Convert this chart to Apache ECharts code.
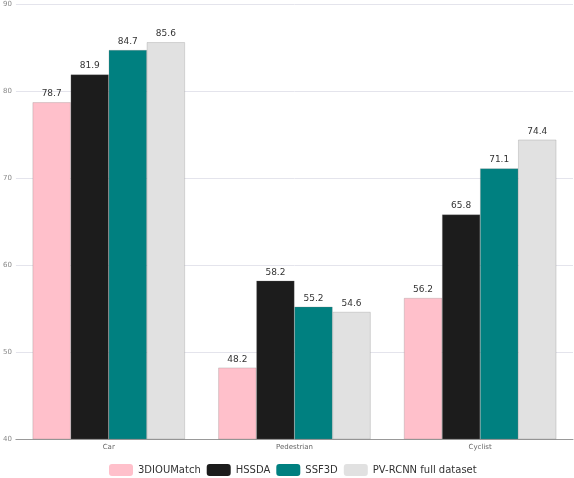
<!DOCTYPE html>
<html><head><meta charset="utf-8">
<script src="https://cdn.jsdelivr.net/npm/echarts@6/dist/echarts.min.js"></script>
<style>html,body{margin:0;padding:0;background:#fff}#c{width:574px;height:478px}</style>
</head><body><div id="c"></div>
<script>
const categories = ['Car', 'Pedestrian', 'Cyclist'];
const seriesNames = ['3DIOUMatch', 'HSSDA', 'SSF3D', 'PV-RCNN full dataset'];
const v3DIOUMatch = [78.7, 48.2, 56.2];
const vHSSDA = [81.9, 58.2, 65.8];
const vSSF3D = [84.7, 55.2, 71.1];
const vPVRCNN = [85.6, 54.6, 74.4];
const colors = ['#FFC0CB', '#1C1C1C', '#008080', '#E1E1E1'];
const values = [v3DIOUMatch, vHSSDA, vSSF3D, vPVRCNN];

const chart = echarts.init(document.getElementById('c'));
chart.setOption({
  animation: false,
  textStyle: { fontFamily: 'DejaVu Sans' },
  grid: { left: 13, right: 1, top: 4, bottom: 39, containLabel: false },
  legend: {
    bottom: 2, left: 109, padding: 0,
    itemWidth: 24, itemHeight: 12, itemGap: 6,
    itemStyle: { borderWidth: 0 },
    textStyle: { fontSize: 10, color: '#333', fontFamily: 'DejaVu Sans' },
    data: seriesNames
  },
  xAxis: {
    type: 'category', data: categories,
    axisTick: { show: false },
    axisLine: { lineStyle: { color: '#999' } },
    axisLabel: { fontSize: 7, color: '#666', margin: 5 }
  },
  yAxis: {
    type: 'value', min: 40, max: 90, interval: 10,
    axisLabel: { fontSize: 7, color: '#888', margin: 4, align: 'right' },
    splitLine: { lineStyle: { color: '#E4E4EC' } }
  },
  series: seriesNames.map((n, i) => ({
    name: n, type: 'bar', data: values[i],
    barGap: '0%', barCategoryGap: '18%',
    itemStyle: { color: colors[i], borderColor: 'rgba(120,120,120,0.5)', borderWidth: 0.5 },
    label: { show: true, position: 'top', fontSize: 9, color: '#333', distance: 4 }
  }))
});
</script></body></html>
